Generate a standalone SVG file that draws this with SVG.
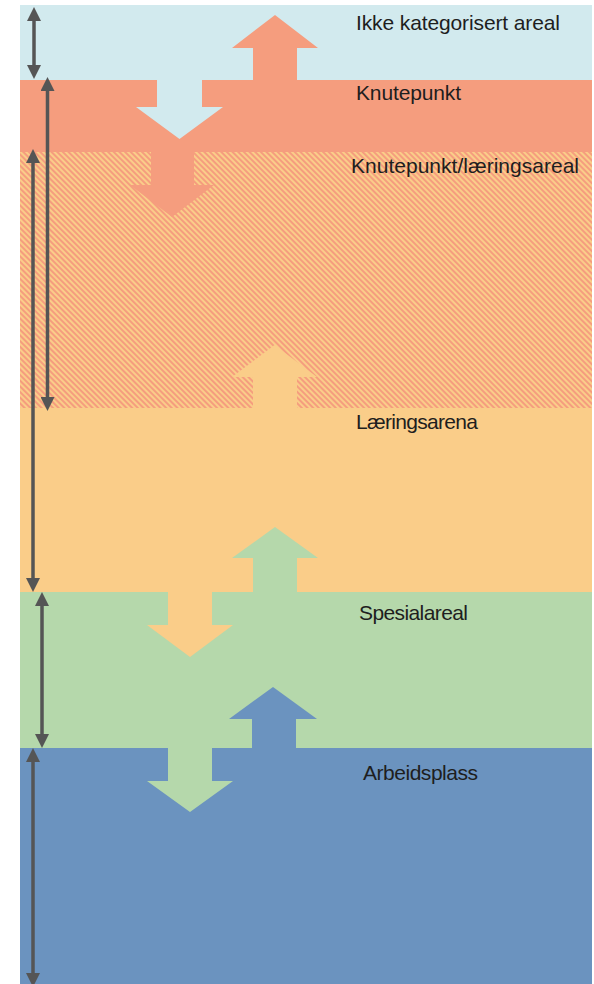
<svg xmlns="http://www.w3.org/2000/svg" width="594" height="984" viewBox="0 0 594 984">
  <style>
    .lbl { font-family: "Liberation Sans", Arial, sans-serif; font-size: 21px; fill: #1e1e1e; }
    .dim { stroke: #555555; stroke-width: 3.5; fill: none; marker-start: url(#head); marker-end: url(#head); }
    .blue { fill: #D2EAEE; }
    .salmon { fill: #F59D7E; }
    .orange { fill: #FACD89; }
    .green { fill: #B5D8AB; }
    .navy { fill: #6B93BF; }
  </style>
  <defs>
    <pattern id="hatch" width="4" height="4" patternUnits="userSpaceOnUse" patternTransform="rotate(-45)">
      <rect width="4" height="4" fill="#FACD89"/>
      <rect width="2" height="4" fill="#F59D7E"/>
    </pattern>
    <marker id="head" markerUnits="userSpaceOnUse" markerWidth="14" markerHeight="14" refX="4" refY="7" orient="auto-start-reverse" viewBox="0 0 14 14">
      <path d="M0,0 L14,7 L0,14 z" fill="#555555"/>
    </marker>
  </defs>

  <rect width="594" height="984" fill="#ffffff"/>

  <g id="band-ikke">
    <rect class="blue" x="20" y="5" width="572" height="75.5"/>
    <text class="lbl" x="356" y="30" textLength="204">Ikke kategorisert areal</text>
  </g>
  <g id="band-knutepunkt">
    <rect class="salmon" x="20" y="80" width="572" height="72.5"/>
    <text class="lbl" x="356" y="100" textLength="105">Knutepunkt</text>
  </g>
  <g id="band-knutepunkt-laering">
    <rect x="20" y="152" width="572" height="256.5" fill="url(#hatch)"/>
    <text class="lbl" x="351" y="173" textLength="228">Knutepunkt/læringsareal</text>
  </g>
  <g id="band-laeringsarena">
    <rect class="orange" x="20" y="408" width="572" height="184.5"/>
    <text class="lbl" x="356" y="429" textLength="122">Læringsarena</text>
  </g>
  <g id="band-spesialareal">
    <rect class="green" x="20" y="592" width="572" height="156.5"/>
    <text class="lbl" x="359" y="620" textLength="109">Spesialareal</text>
  </g>
  <g id="band-arbeidsplass">
    <rect class="navy" x="20" y="748" width="572" height="236"/>
    <text class="lbl" x="363" y="780" textLength="115">Arbeidsplass</text>
  </g>

  <g id="block-arrows">
    <polygon class="salmon" points="253,81 253,48 232,48 275,15 318,48 297,48 297,81"/>
    <polygon class="blue" points="157,79 202,79 202,107 223,107 179.5,139 136,107 157,107"/>
    <polygon class="salmon" points="151,151 194,151 194,185 214,185 172,217 130,185 151,185"/>
    <polygon class="orange" points="253,409 253,377 232,377 274.5,345 317,377 297,377 297,409"/>
    <polygon class="green" points="253,593 253,558 232,558 275,527 318,558 297,558 297,593"/>
    <polygon class="orange" points="168,591 212,591 212,625 233,625 190,657 147,625 168,625"/>
    <polygon class="navy" points="252,749 252,719 229,719 273,687 317,719 296,719 296,749"/>
    <polygon class="green" points="168,747 212,747 212,781 233,781 190,812 147,781 168,781"/>
  </g>

  <g id="connectors">
    <line class="dim" x1="34" y1="17" x2="34" y2="69"/>
    <line class="dim" x1="47.5" y1="87" x2="47.5" y2="401"/>
    <line class="dim" x1="33" y1="159" x2="33" y2="582"/>
    <line class="dim" x1="42" y1="602" x2="42" y2="738"/>
    <line class="dim" x1="33" y1="758" x2="33" y2="977"/>
  </g>
</svg>
